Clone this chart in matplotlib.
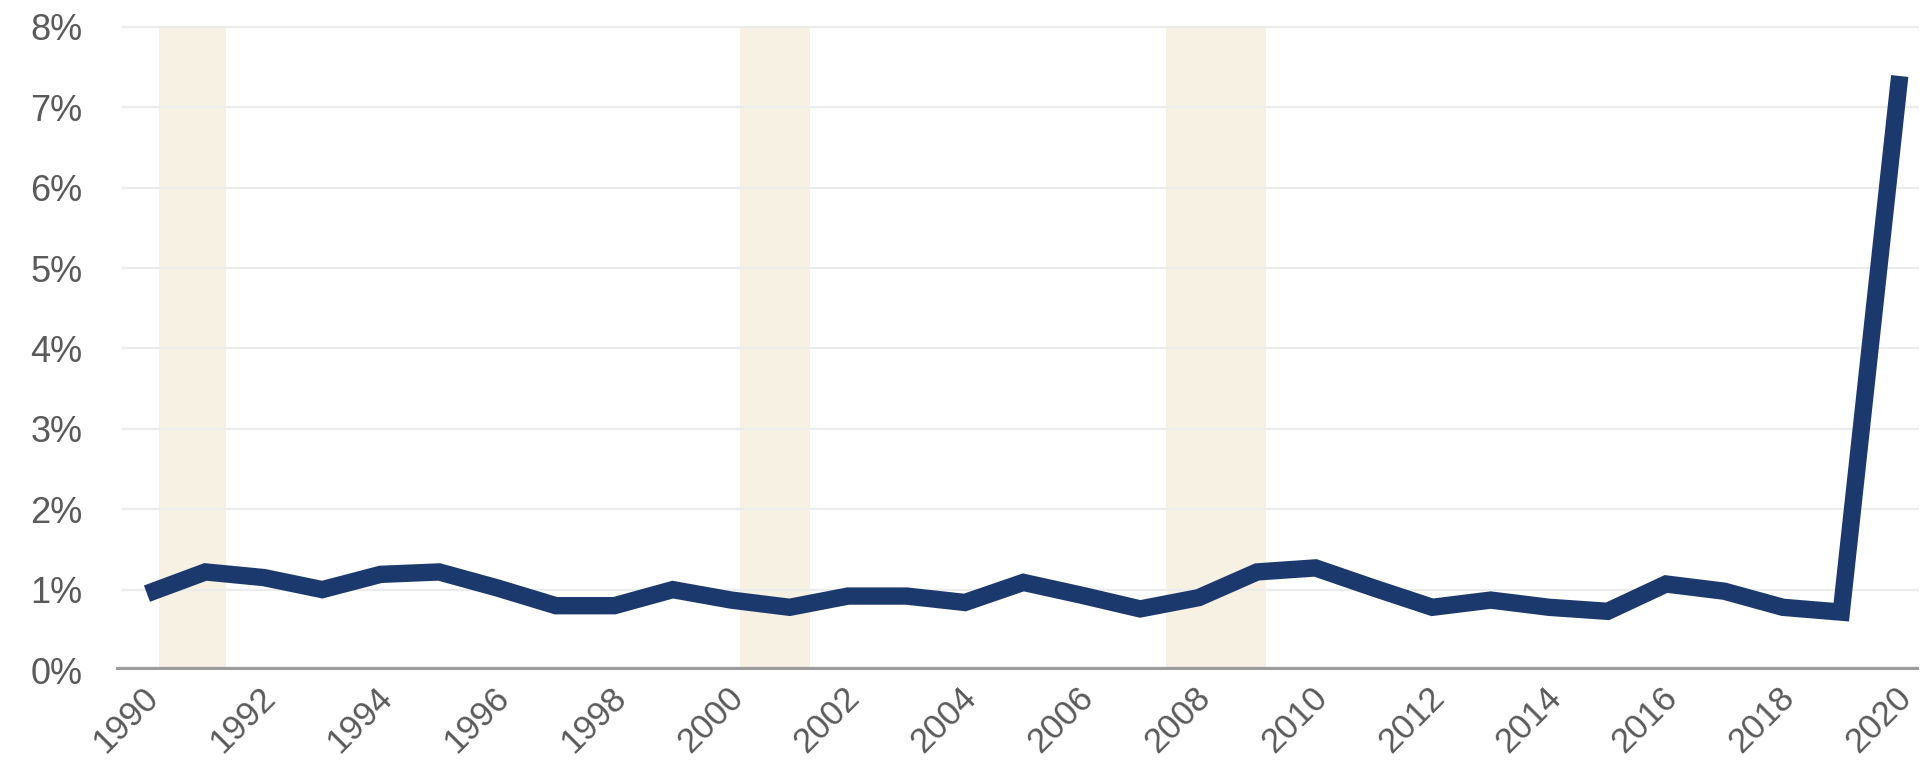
import matplotlib
matplotlib.use("Agg")
import matplotlib.pyplot as plt
import matplotlib.transforms as mtransforms

# Annual rate, percent
years = list(range(1990, 2021))
rate = [0.95, 1.22, 1.15, 1.00, 1.19, 1.22, 1.02, 0.80, 0.80, 1.00,
        0.87, 0.78, 0.92, 0.92, 0.84, 1.09, 0.93, 0.76, 0.90, 1.22,
        1.27, 1.02, 0.78, 0.87, 0.78, 0.73, 1.07, 0.98, 0.78, 0.72,
        7.39]

# Recession periods (start, end) on the year axis
recessions = [(1990.2, 1991.35), (2000.15, 2001.35), (2007.45, 2009.15)]

y_ticks = list(range(0, 9))
y_tick_labels = [f"{v}%" for v in y_ticks]
x_ticks = list(range(1990, 2021, 2))
x_tick_labels = [str(v) for v in x_ticks]

plt.rcParams["font.family"] = ["Liberation Sans", "DejaVu Sans"]

W, H, DPI = 1929, 779, 100
fig = plt.figure(figsize=(W / DPI, H / DPI), dpi=DPI)
left, right = 116 / W, 1919 / W
bottom = 1 - 670 / H
top = 1 - (27 - 0.1 * 80.4) / H
ax = fig.add_axes([left, bottom, right - left, top - bottom])

for s, e in recessions:
    ax.axvspan(s, e, ymax=8 / 8.1, color="#f6f1e2", lw=0, zorder=0)

for v in y_ticks[1:]:
    ax.axhline(v, xmin=0.004, color="#ececec", lw=1.6, zorder=1)
ax.axhline(0, color="#9c9c9c", lw=4.5, zorder=2)

ax.plot(years, rate, color="#1c396e", lw=12.5, solid_joinstyle="miter",
        solid_capstyle="butt", zorder=3)

ax.set_xlim(1989.47, 2020.33)
ax.set_ylim(0, 8.1)

for sp in ax.spines.values():
    sp.set_visible(False)

ax.set_yticks(y_ticks)
ax.set_yticklabels(y_tick_labels)
ax.tick_params(axis="y", length=0, pad=24, labelsize=26, labelcolor="#5a5a5a")

ax.set_xticks(x_ticks)
ax.set_xticklabels(x_tick_labels, rotation=45, ha="right", va="top",
                   rotation_mode="anchor")
ax.tick_params(axis="x", length=0, pad=8, labelsize=25, labelcolor="#5a5a5a")
offset = mtransforms.ScaledTranslation(-5 / DPI, 0, fig.dpi_scale_trans)
for lab in ax.get_xticklabels():
    lab.set_transform(lab.get_transform() + offset)

fig.savefig("out.png", dpi=DPI, facecolor="white")
